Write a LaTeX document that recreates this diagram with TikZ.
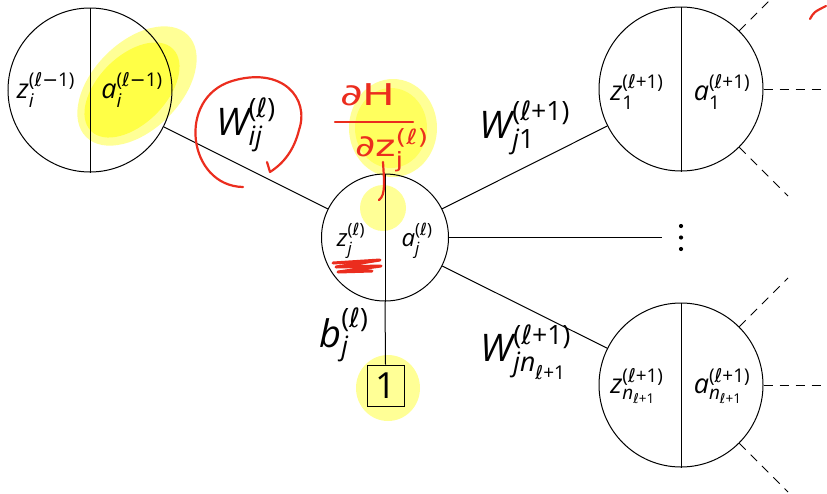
\documentclass[tikz,border=0pt]{standalone}
\usepackage{amsmath}
\usepackage{fontspec}
\setmainfont{Open Sans}
\newfontfamily\dvs{DejaVu Sans}
\newcommand\ellg{{\dvs ℓ}}
\newcommand\mnus{{\dvs −}}
\newcommand\vlab[3]{$\text{#1}^{\text{#3}}_{\text{#2}}$}
\definecolor{hlcore}{RGB}{255,255,70}
\definecolor{hlrim}{RGB}{255,255,150}
\definecolor{pen}{RGB}{235,45,30}
\tikzset{
  neuron/.style={circle, draw, line width=1pt, inner sep=0pt},
  big/.style={neuron, minimum size=164pt},
  mid/.style={neuron, minimum size=127pt},
  nlab/.style={inner sep=0pt, font=\fontsize{27}{32}\selectfont},
  mlab/.style={inner sep=0pt, font=\fontsize{24}{29}\selectfont},
  wlab/.style={inner sep=0pt, font=\fontsize{38}{44}\selectfont},
  conn/.style={line width=1pt},
  dconn/.style={line width=1pt, dash pattern=on 9pt off 7pt},
  hand/.style={inner sep=0pt, text=pen, font=\dvs\fontsize{30}{34}\selectfont},
  stroke/.style={draw=pen, line width=2.2pt, line cap=round, line join=round},
}
\begin{document}
\begin{tikzpicture}[x=1pt,y=-1pt]
\useasboundingbox (0,0) rectangle (827,493);
\clip (0,0) rectangle (827,493);
% highlights
\fill[hlrim, rotate around={45:(137,86)}] (137,86) ellipse [x radius=72pt, y radius=44pt];
\fill[hlcore, rotate around={45:(132,90)}] (132,90) ellipse [x radius=58pt, y radius=34pt];
\fill[hlrim] (393,128) ellipse [x radius=44pt, y radius=49pt];
\fill[hlcore!70!hlrim] (391,128) ellipse [x radius=36pt, y radius=40pt];
\fill[hlrim] (383,208) circle (23pt);
\fill[hlrim] (388,388) ellipse [x radius=32pt, y radius=33pt];
% neurons
\node[big] (L) at (90,90) {};
\node[mid] (M) at (385,237.5) {};
\node[big] (TR) at (681,89) {};
\node[big] (BR) at (681,385) {};
\draw[conn] (L.north) -- (L.south);
\draw[conn] (M.north) -- (M.south);
\draw[conn] (TR.north) -- (TR.south);
\draw[conn] (BR.north) -- (BR.south);
\node[draw, line width=1pt, minimum width=37pt, minimum height=41pt, inner sep=0pt, font=\fontsize{36}{40}\selectfont] (one) at (385.5,385.5) {1};
\node[inner sep=0pt, minimum width=38pt, minimum height=30pt] (dots) at (681,237.5) {};
\fill (dots.center) circle (2.1pt);
\fill ([yshift=11.5pt]dots.center) circle (2.1pt);
\fill ([yshift=-11.5pt]dots.center) circle (2.1pt);
% node labels
\node[nlab] (zi) at (46,90) {\vlab{\itshape z}{\itshape i}{(\ellg\mnus1)}};
\node[nlab] (ai) at (132,90) {\vlab{\itshape a}{\itshape i}{(\ellg\mnus1)}};
\node[mlab] (zj) at (351,241) {\vlab{\itshape z}{\itshape j}{(\ellg)}};
\node[mlab] (aj) at (417,241) {\vlab{\itshape a}{\itshape j}{(\ellg)}};
\node[nlab] (z1) at (637,92) {\vlab{\itshape z}{1}{(\ellg+1)}};
\node[nlab] (a1) at (722,92) {\vlab{\itshape a}{1}{(\ellg+1)}};
\node[nlab] (zn) at (637,386) {$\text{\itshape z}^{\text{(\ellg+1)}}_{\text{\itshape n}_{\text{\ellg+1}}}$};
\node[nlab] (an) at (722,386) {$\text{\itshape a}^{\text{(\ellg+1)}}_{\text{\itshape n}_{\text{\ellg+1}}}$};
% connectors
\draw[conn] (L) -- (M);
\draw[conn] (M) -- (TR);
\draw[conn] (M) -- (BR);
\draw[conn] (M) -- (dots.west);
\draw[conn] (M.south) -- (one.north);
\coordinate (trNE) at (788,-18);
\coordinate (trE) at (840,89);
\coordinate (trSE) at (788,196);
\coordinate (brNE) at (788,278);
\coordinate (brE) at (840,385);
\coordinate (brSE) at (788,492);
\draw[dconn] (TR) -- (trNE);
\draw[dconn] (TR.east) -- (trE);
\draw[dconn] (TR) -- (trSE);
\draw[dconn] (BR) -- (brNE);
\draw[dconn] (BR.east) -- (brE);
\draw[dconn] (BR) -- (brSE);
% weight labels
\node[wlab] (wij) at (246,125) {\vlab{\itshape W}{\itshape ij}{(\ellg)}};
\node[wlab] (wj1) at (525,128) {\vlab{\itshape W}{{\itshape j}1}{(\ellg+1)}};
\node[wlab] (bj) at (344,335) {\vlab{\itshape b}{\itshape j}{(\ellg)}};
\node[wlab] (wjn) at (526,352) {$\text{\itshape W}^{\text{(\ellg+1)}}_{\text{\itshape jn}_{\text{\ellg+1}}}$};
% handwritten annotations
\draw[stroke] (243,187) .. controls (188,186) and (176,98) .. (232,81) .. controls (282,66) and (310,98) .. (299,130) .. controls (294,150) and (284,163) .. (270,172) -- (267,162);
\node[hand, transform shape, xscale=1.45] (dH) at (368,95) {∂H};
\draw[stroke] (335,122) -- (413,122);
\node[hand, transform shape, xscale=1.3] (dz) at (392,150) {$\text{∂z}_{\text{j}}^{\text{(ℓ)}}$};
\draw[stroke] (383,162) .. controls (384,180) and (386,195) .. (379,200);
\draw[stroke, line width=3pt] (333,263) -- (380,260) -- (336,267) -- (381,266) -- (338,272) -- (372,271);
\draw[stroke] (810,19) .. controls (814,12) .. (826,6);
\end{tikzpicture}
\end{document}
